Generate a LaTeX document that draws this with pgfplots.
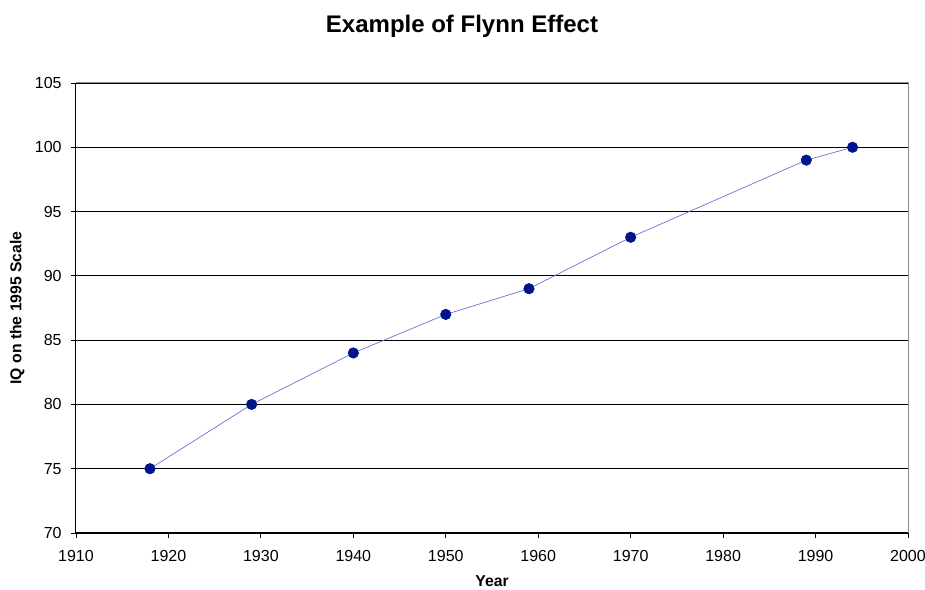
\documentclass[border=0pt]{standalone}
\usepackage{pgfplots}
\pgfplotsset{compat=1.18}
\usepackage{fontspec}
\setmainfont{Liberation Sans}
\definecolor{markblue}{RGB}{0,20,140}
\definecolor{lineblue}{RGB}{100,110,210}
\begin{document}
\begin{tikzpicture}
\begin{axis}[
  scale only axis,
  width=624pt, height=337.5pt,
  xmin=1910, xmax=2000, ymin=70, ymax=105,
  xtick={1910,1920,...,2000},
  ytick={70,75,...,105},
  axis x line*=bottom, axis y line*=left,
  axis line style={black, line width=0.75pt},
  tick align=outside,
  major tick length=3.75pt,
  tick style={black, line width=0.6pt},
  ymajorgrids,
  major grid style={black, line width=0.6pt},
  /pgf/number format/assume math mode=true,
  /pgf/number format/1000 sep={},
  tick label style={font=\fontsize{12}{14}\selectfont},
  xticklabel style={yshift=-6pt},
  yticklabel style={xshift=-3.5pt},
  xlabel={\textbf{Year}},
  ylabel={\textbf{IQ on the 1995 Scale}},
  every axis x label/.style={at={([yshift=-36pt]axis description cs:0.5,0)}, anchor=center, inner sep=0.5pt, font=\fontsize{11.8}{13}\selectfont},
  every axis y label/.style={at={([xshift=-44pt]axis description cs:0,0.5)}, anchor=center, rotate=90, font=\fontsize{11.8}{13}\selectfont},
  clip=false,
]
\draw[gray!90, line width=0.75pt] (rel axis cs:0,1) -- (rel axis cs:1,1) -- (rel axis cs:1,0);
\addplot[color=lineblue, line width=0.5pt, mark=*, mark size=3.9pt,
  mark options={draw=markblue, fill=markblue}]
  coordinates {(1918,75) (1929,80) (1940,84) (1950,87) (1959,89) (1970,93) (1989,99) (1994,100)};
\coordinate (ll) at (rel axis cs:0,0);
\coordinate (ur) at (rel axis cs:1,1);
\coordinate (tc) at (rel axis cs:0.5,1);
\end{axis}
\pgfresetboundingbox
\path ([shift={(-57pt,-42.75pt)}]ll) rectangle ([shift={(12.75pt,62.25pt)}]ur);
\node[font=\bfseries\fontsize{18}{20}\selectfont, anchor=base] at ([shift={(-22.5pt,38pt)}]tc) {Example of Flynn Effect};
\end{tikzpicture}
\end{document}
